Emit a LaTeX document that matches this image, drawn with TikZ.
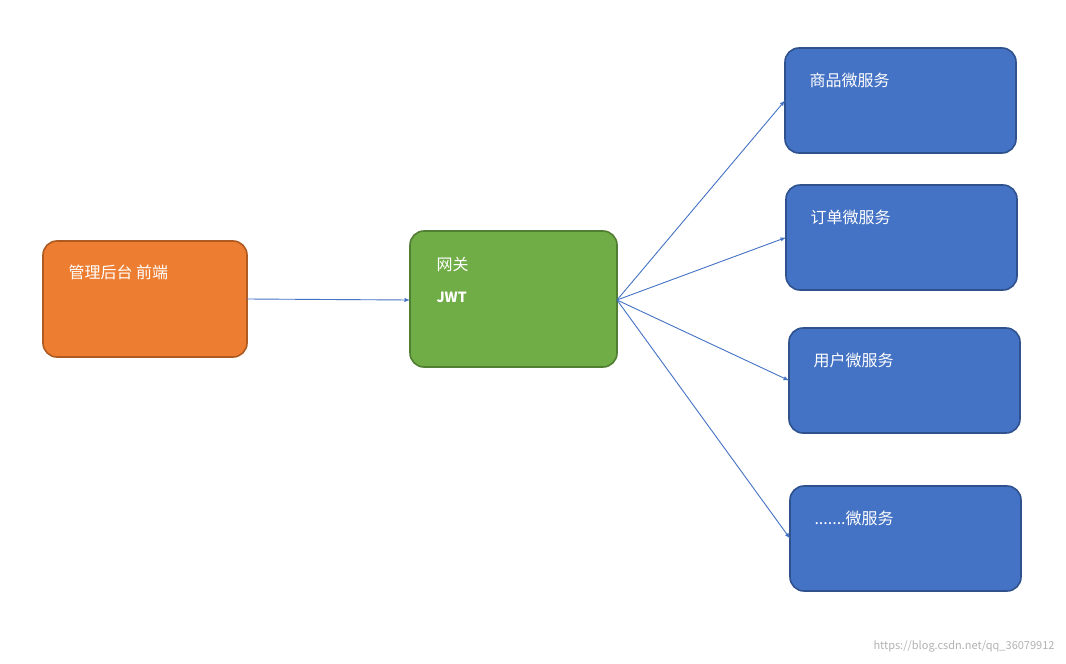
\documentclass[tikz,border=0pt]{standalone}
\usepackage{fontspec}
\setmainfont{Noto Sans CJK SC}
\begin{document}
\begin{tikzpicture}[x=1pt,y=-1pt,
 box/.style={draw,line width=1.6pt,rounded corners=14pt},
 lbl/.style={anchor=west,text=white,font=\fontsize{16}{18}\selectfont},
 arr/.style={draw=arrc,line width=0.9pt,-latex}]
\definecolor{arrc}{HTML}{4472C4}
\definecolor{ofill}{HTML}{ED7D31}\definecolor{oline}{HTML}{AE5A21}
\definecolor{gfill}{HTML}{70AD47}\definecolor{gline}{HTML}{507E32}
\definecolor{bfill}{HTML}{4472C4}\definecolor{bline}{HTML}{2F528F}
\useasboundingbox[fill=white] (0,0) rectangle (1066,664);
\path[box,fill=ofill,draw=oline] (43,241) rectangle (247,357);
\node (a) at (145,299) [minimum width=204pt,minimum height=116pt,inner sep=0pt,outer sep=0pt] {};
\node[lbl] (at) at (65,272) {管理后台 前端};
\path[box,fill=gfill,draw=gline] (410,231) rectangle (617,367);
\node (g) at (513.5,300) [minimum width=207pt,minimum height=136pt,inner sep=0pt,outer sep=0pt] {};
\node[lbl] (gt) at (433,264) {网关};
\node[lbl,font=\fontsize{14}{16}\selectfont\bfseries] (gj) at (433,297) {JWT};
\foreach \n/\xa/\ya/\t in {b1/785/48/{商品微服务},b2/786/185/{订单微服务},b3/789/328/{用户微服务},b4/790/486/{.......微服务}}{
 \path[box,fill=bfill,draw=bline] (\xa,\ya) rectangle ++(231,105);
 \node[minimum width=231pt,minimum height=105pt,inner sep=0pt,outer sep=0pt] (\n) at (\xa+115.5,\ya+52.5) {};
 \node[lbl] (\n t) at (\xa+21,\ya+32) {\t};
}
\draw[arr] (a.east) -- (g.west);
\draw[arr] (g.east) -- (b1.west);
\draw[arr] (g.east) -- (b2.west);
\draw[arr] (g.east) -- (b3.west);
\draw[arr] (g.east) -- (b4.west);
\node[anchor=east,text=gray!60,font=\fontsize{11}{13}\selectfont] (w) at (1058,646) {https://blog.csdn.net/qq\_36079912};
\end{tikzpicture}
\end{document}
